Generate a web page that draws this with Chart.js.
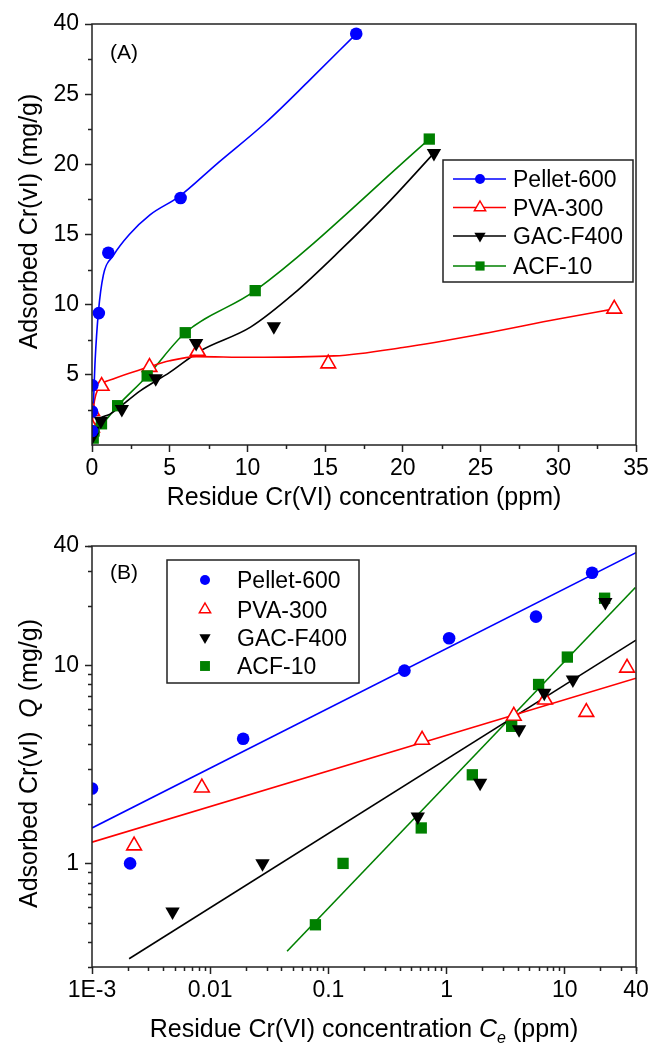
<!DOCTYPE html>
<html>
<head>
<meta charset="utf-8">
<script src="https://cdn.jsdelivr.net/npm/chart.js@4.4.1/dist/chart.umd.min.js"></script>
<style>
  html, body { margin: 0; padding: 0; background: #fff; }
  #wrap { position: relative; width: 663px; height: 1043px; }
  #chartA { position: absolute; left: 0; top: 0; }
  #chartB { position: absolute; left: 0; top: 520px; }
</style>
</head>
<body>
<div id="wrap">
  <canvas id="chartA" width="663" height="520"></canvas>
  <canvas id="chartB" width="663" height="523"></canvas>
</div>
<script>
const FONT = "'Liberation Sans', Arial, Helvetica, sans-serif";

// measured isotherm points (Ce in ppm, Q in mg/g)
const pelletX = [0.001, 0.0021, 0.019, 0.44, 1.05, 5.7, 17.0];
const pelletY = [2.39, 1.0, 4.26, 9.4, 13.7, 17.6, 29.3];
const pvaX = [0.00227, 0.0085, 0.62, 3.7, 6.8, 15.2, 33.6];
const pvaY = [1.23, 2.41, 4.2, 5.55, 6.7, 5.8, 9.7];
const gacX = [0.0048, 0.0277, 0.57, 1.92, 4.1, 6.7, 11.7, 22.0];
const gacY = [0.57, 1.0, 1.72, 2.55, 4.75, 7.25, 8.45, 20.8];
const acfX = [0.0776, 0.133, 0.61, 1.65, 3.55, 6.0, 10.5, 21.7];
const acfY = [0.49, 1.0, 1.51, 2.8, 4.92, 8.0, 11.0, 21.8];

// smoothed curves of panel A
const pelletCurveX = [0.02, 0.09, 0.2, 0.41, 0.73, 1.37, 2.4, 3.73, 5.6, 8.0, 11.2, 14.0, 17.0];
const pelletCurveY = [2.3, 3.0, 6.0, 9.45, 12.1, 13.5, 15.0, 16.4, 17.7, 20.0, 23.0, 26.0, 29.3];
const pvaCurveX = [0.02, 0.1, 0.25, 0.5, 1.36, 3.5, 5.0, 6.7, 10.2, 15.6, 20, 25, 30, 33.6];
const pvaCurveY = [1.5, 2.7, 3.6, 4.2, 4.7, 5.5, 6.0, 6.3, 6.25, 6.35, 6.95, 7.9, 8.98, 9.7];
const gacCurveX = [0.02, 0.3, 1.16, 3.1, 5.0, 6.95, 10.2, 13.0, 16.0, 19.0, 22.0];
const gacCurveY = [0.5, 1.6, 2.2, 3.86, 5.17, 6.7, 8.4, 10.8, 13.9, 17.2, 20.8];

// Freundlich fits of panel B (end points)
const pelletFitX = [0.001, 40];
const pelletFitY = [1.51, 37];
const pvaFitX = [0.001, 40];
const pvaFitY = [1.28, 8.6];
const gacFitX = [0.00206, 40];
const gacFitY = [0.33, 13.4];
const acfFitX = [0.0447, 39.5];
const acfFitY = [0.36, 24.7];

// axis ticks
const xTicksA = [0, 5, 10, 15, 20, 25, 30, 35];
const xTickLabelsA = ['0', '5', '10', '15', '20', '25', '30', '35'];
const yTicksA = [5, 10, 15, 20, 25, 30];
const yTickLabelsA = ['5', '10', '15', '20', '25', '40'];
const xTicksB = [0.001, 0.01, 0.1, 1, 10, 40];
const xTickLabelsB = ['1E-3', '0.01', '0.1', '1', '10', '40'];
const yTicksB = [1, 10, 40];
const yTickLabelsB = ['1', '10', '40'];

const names = ['Pellet-600', 'PVA-300', 'GAC-F400', 'ACF-10'];
const colors = ['#0000ff', '#ff0000', '#000000', '#008000'];

const xy = (xs, ys) => xs.map((x, i) => ({ x: x, y: ys[i] }));

function logMinor(lo, hi) {
  const out = [];
  for (let d = lo; d < hi; d *= 10) {
    for (let m = 2; m <= 9; m++) {
      const v = +(d * m).toPrecision(3);
      if (v > hi * 1.0001) continue;
      out.push(v);
    }
  }
  return out;
}

function markerSets() {
  return [
    { pointStyle: 'circle', pointRadius: 6.3, pointBackgroundColor: colors[0], pointBorderColor: colors[0], pointBorderWidth: 0 },
    { pointStyle: 'triangle', pointRadius: 8.5, pointBackgroundColor: '#ffffff', pointBorderColor: colors[1], pointBorderWidth: 1.6 },
    { pointStyle: 'triangle', pointRotation: 180, pointRadius: 8.3, pointBackgroundColor: colors[2], pointBorderColor: colors[2], pointBorderWidth: 0 },
    { pointStyle: 'rect', pointRadius: 8.0, pointBackgroundColor: colors[3], pointBorderColor: colors[3], pointBorderWidth: 0 }
  ];
}

function drawMarker(ctx, shape, x, y, r, color, open) {
  ctx.beginPath();
  if (shape === 'circle') {
    ctx.arc(x, y, r, 0, Math.PI * 2);
  } else if (shape === 'up') {
    ctx.moveTo(x, y - r);
    ctx.lineTo(x + 0.866 * r, y + 0.5 * r);
    ctx.lineTo(x - 0.866 * r, y + 0.5 * r);
    ctx.closePath();
  } else if (shape === 'down') {
    ctx.moveTo(x, y + r);
    ctx.lineTo(x - 0.866 * r, y - 0.5 * r);
    ctx.lineTo(x + 0.866 * r, y - 0.5 * r);
    ctx.closePath();
  } else {
    const h = r * 0.7071;
    ctx.rect(x - h, y - h, 2 * h, 2 * h);
  }
  if (open) {
    ctx.fillStyle = '#fff';
    ctx.fill();
    ctx.strokeStyle = color;
    ctx.lineWidth = 1.5;
    ctx.stroke();
  } else {
    ctx.fillStyle = color;
    ctx.fill();
  }
}

function richText(ctx, parts, x, y, size, rotate) {
  const fontOf = p => (p.italic ? 'italic ' : '') + (p.sub ? Math.round(size * 0.62) : size) + 'px ' + FONT;
  let w = 0;
  parts.forEach(p => { ctx.font = fontOf(p); w += ctx.measureText(p.t).width; });
  ctx.save();
  ctx.translate(x, y);
  if (rotate) ctx.rotate(-Math.PI / 2);
  ctx.textAlign = 'left';
  ctx.textBaseline = 'alphabetic';
  ctx.fillStyle = '#000';
  let cx = -w / 2;
  parts.forEach(p => {
    ctx.font = fontOf(p);
    ctx.fillText(p.t, cx, p.sub ? size * 0.22 : 0);
    cx += ctx.measureText(p.t).width;
  });
  ctx.restore();
}

function decor(cfg) {
  return {
    id: 'decor',
    afterDraw(chart) {
      const ctx = chart.ctx, a = chart.chartArea, sx = chart.scales.x, sy = chart.scales.y;
      ctx.save();
      ctx.strokeStyle = '#222';
      ctx.lineWidth = 1.5;
      ctx.strokeRect(a.left, a.top, a.right - a.left, a.bottom - a.top);
      ctx.beginPath();
      cfg.xMinor.forEach(v => {
        const p = Math.round(sx.getPixelForValue(v)) + 0.5;
        ctx.moveTo(p, a.bottom); ctx.lineTo(p, a.bottom + 4);
      });
      cfg.yMinor.forEach(v => {
        const p = Math.round(sy.getPixelForValue(v)) + 0.5;
        ctx.moveTo(a.left, p); ctx.lineTo(a.left - 4, p);
      });
      ctx.stroke();

      // panel label
      ctx.fillStyle = '#000';
      ctx.font = '21px ' + FONT;
      ctx.textAlign = 'left';
      ctx.fillText(cfg.panel, 110, 58.5);

      // legend
      const L = cfg.legend;
      ctx.strokeStyle = '#222';
      ctx.lineWidth = 1.5;
      ctx.strokeRect(L.x, L.y, L.w, L.h);
      const shapes = ['circle', 'up', 'down', 'rect'];
      names.forEach((n, i) => {
        const ry = L.rows[i];
        if (L.lines) {
          ctx.beginPath();
          ctx.strokeStyle = colors[i];
          ctx.lineWidth = 1.6;
          ctx.moveTo(L.lineFrom, ry); ctx.lineTo(L.lineTo, ry);
          ctx.stroke();
        }
        drawMarker(ctx, shapes[i], L.mx, ry, L.sizes[i], colors[i], i === 1);
        ctx.fillStyle = '#000';
        ctx.font = '23px ' + FONT;
        ctx.textAlign = 'left';
        ctx.textBaseline = 'alphabetic';
        ctx.fillText(n, L.tx, ry + 8.2);
      });

      // axis titles
      richText(ctx, cfg.xTitle, (a.left + a.right) / 2, cfg.xTitleY, 25, false);
      richText(ctx, cfg.yTitle, 37, (a.top + a.bottom) / 2 + cfg.yTitleShift, 25, true);
      ctx.restore();
    }
  };
}

function axis(type, min, max, ticks, labels, pos, fit) {
  return {
    type: type, position: pos, min: min, max: max,
    afterBuildTicks: s => { s.ticks = ticks.map(v => ({ value: v })); },
    afterFit: fit,
    ticks: {
      autoSkip: false, maxRotation: 0, color: '#000', padding: pos === 'left' ? 6 : 3,
      font: { family: FONT, size: 23 },
      callback: (v, i) => labels[i]
    },
    grid: { drawOnChartArea: false, tickLength: 7, tickWidth: 1.5, tickColor: '#222' },
    border: { display: false }
  };
}

function markerDatasets() {
  const m = markerSets();
  const sets = [xy(pelletX, pelletY), xy(pvaX, pvaY), xy(gacX, gacY), xy(acfX, acfY)];
  return sets.map((d, i) => Object.assign({ label: names[i], data: d, showLine: false, clip: 0, order: i === 1 ? 1 : 0 }, m[i]));
}

function lineDataset(d, color, smooth) {
  return {
    data: d, showLine: true, pointRadius: 0, borderColor: color, borderWidth: 1.6,
    cubicInterpolationMode: smooth ? 'monotone' : 'default', tension: 0,
    clip: 0, order: 5
  };
}

const xTitleA = [{ t: 'Residue Cr(VI) concentration (ppm)' }];
const yTitleA = [{ t: 'Adsorbed Cr(vI) (mg/g)' }];
const xTitleB = [{ t: 'Residue Cr(VI) concentration ' }, { t: 'C', italic: true }, { t: 'e', italic: true, sub: true }, { t: ' (ppm)' }];
const yTitleB = [{ t: 'Adsorbed Cr(vI)  ' }, { t: 'Q', italic: true }, { t: ' (mg/g)' }];

const minorA = [2.5, 7.5, 12.5, 17.5, 22.5, 27.5, 32.5];
const minorAy = [2.5, 7.5, 12.5, 17.5, 22.5, 27.5];

new Chart(document.getElementById('chartA'), {
  type: 'scatter',
  data: {
    datasets: markerDatasets().concat([
      lineDataset(xy(pelletCurveX, pelletCurveY), colors[0], true),
      lineDataset(xy(pvaCurveX, pvaCurveY), colors[1], true),
      lineDataset(xy(gacCurveX, gacCurveY), colors[2], true),
      lineDataset(xy(acfX, acfY), colors[3], true)
    ])
  },
  options: {
    responsive: false, animation: false,
    layout: { padding: { top: 24, right: 27, left: 0, bottom: 0 } },
    plugins: { legend: { display: false }, tooltip: { enabled: false } },
    scales: {
      x: axis('linear', 0, 35, xTicksA, xTickLabelsA, 'bottom', s => { s.height = 75; }),
      y: axis('linear', 0, 30, yTicksA, yTickLabelsA, 'left', s => { s.width = 92; })
    }
  },
  plugins: [decor({
    panel: '(A)', xMinor: minorA, yMinor: minorAy,
    xTitle: xTitleA, xTitleY: 505, yTitle: yTitleA, yTitleShift: -13,
    legend: { x: 443, y: 160, w: 190, h: 122, rows: [179, 207.5, 236, 266], lines: true,
              lineFrom: 453, lineTo: 506, mx: 480, tx: 513, sizes: [5, 6.5, 6.5, 6.5] }
  })]
});

new Chart(document.getElementById('chartB'), {
  type: 'scatter',
  data: {
    datasets: markerDatasets().concat([
      lineDataset(xy(pelletFitX, pelletFitY), colors[0], false),
      lineDataset(xy(pvaFitX, pvaFitY), colors[1], false),
      lineDataset(xy(gacFitX, gacFitY), colors[2], false),
      lineDataset(xy(acfFitX, acfFitY), colors[3], false)
    ])
  },
  options: {
    responsive: false, animation: false,
    layout: { padding: { top: 26, right: 27, left: 0, bottom: 0 } },
    plugins: { legend: { display: false }, tooltip: { enabled: false } },
    scales: {
      x: axis('logarithmic', 0.001, 40, xTicksB, xTickLabelsB, 'bottom', s => { s.height = 76; }),
      y: axis('logarithmic', 0.3, 40, yTicksB, yTickLabelsB, 'left', s => { s.width = 92; })
    }
  },
  plugins: [decor({
    panel: '(B)', xMinor: logMinor(0.001, 40), yMinor: logMinor(0.1, 40).filter(v => v >= 0.3),
    xTitle: xTitleB, xTitleY: 517, yTitle: yTitleB, yTitleShift: 7,
    legend: { x: 167, y: 40, w: 192, h: 123, rows: [60, 89.5, 117.5, 146], lines: false,
              mx: 205, tx: 237, sizes: [5, 6.5, 6.5, 7] }
  })]
});
</script>
</body>
</html>
